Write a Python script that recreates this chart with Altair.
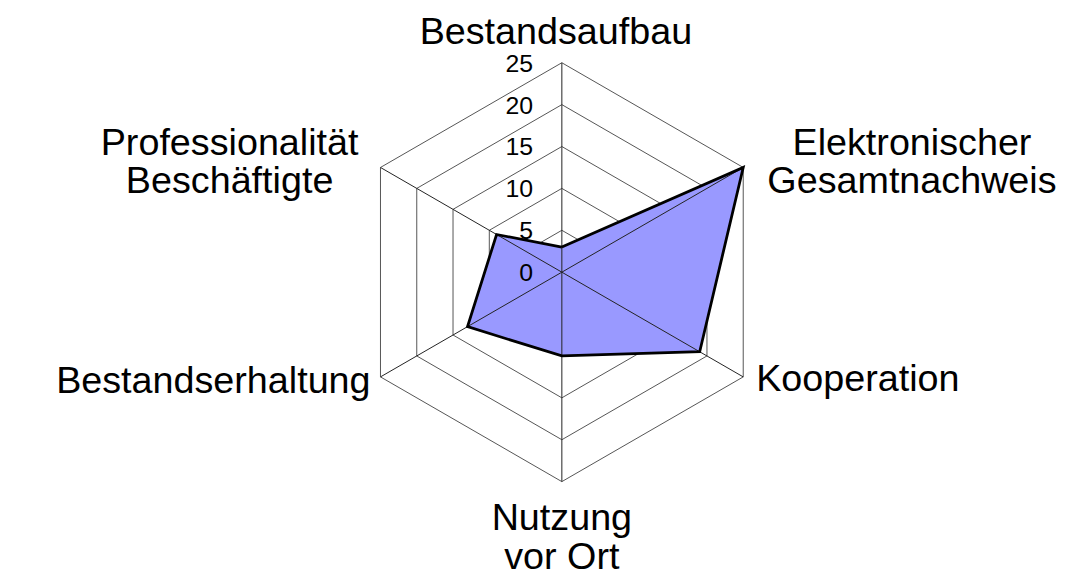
import altair as alt
import numpy as np
import pandas as pd

# ---- data ----
categories = ["Bestandsaufbau", "Elektronischer\nGesamtnachweis", "Kooperation",
              "Nutzung\nvor Ort", "Bestandserhaltung", "Professionalität\nBeschäftigte"]
values = [3, 25, 19, 10, 13, 9]
tick_values = [0, 5, 10, 15, 20, 25]
r_max = 25

# ---- layout ----
W, H = 1077, 576
cx, cy = 558, 264          # centre of the radar in plot pixels
R_px = 211                 # pixel radius of r_max
k = R_px / r_max
n = len(categories)
angles = [2 * np.pi * i / n for i in range(n)]   # clockwise from the top

def px(r, a):
    return float(r * np.sin(a)), float(r * np.cos(a))

xs = alt.Scale(domain=[-cx / k, (W - cx) / k], nice=False, zero=False)
ys = alt.Scale(domain=[-(H - cy) / k, cy / k], nice=False, zero=False)

def X(f="x"):
    return alt.X(f, type="quantitative", scale=xs, axis=None)

def Y(f="y"):
    return alt.Y(f, type="quantitative", scale=ys, axis=None)

# rings
ring_rows = []
for lv in tick_values[1:]:
    for j in range(n + 1):
        x, y = px(lv, angles[j % n])
        ring_rows.append({"level": lv, "o": j, "x": x, "y": y})
rings = alt.Chart(pd.DataFrame(ring_rows)).mark_line(
    color="#555555", strokeWidth=1
).encode(x=X(), y=Y(), detail="level:N", order="o:Q")

# spokes
spoke_rows = []
for a in angles:
    x, y = px(r_max, a)
    spoke_rows.append({"x": 0.0, "y": 0.0, "x2": x, "y2": y})
spokes = alt.Chart(pd.DataFrame(spoke_rows)).mark_rule(
    color="#222222", strokeWidth=1
).encode(x=X(), y=Y(), x2="x2:Q", y2="y2:Q")

# series polygon
poly_rows = []
for j in range(n + 1):
    x, y = px(values[j % n], angles[j % n])
    poly_rows.append({"o": j, "x": x, "y": y})
poly_df = pd.DataFrame(poly_rows)
poly_fill = alt.Chart(poly_df).mark_line(
    fill="#9999FF", stroke="#9999FF", strokeWidth=0.5, fillOpacity=1
).encode(x=X(), y=Y(), order="o:Q")
poly_line = alt.Chart(poly_df).mark_line(
    color="black", strokeWidth=2.8, strokeJoin="miter"
).encode(x=X(), y=Y(), order="o:Q")

# tick labels
tick_df = pd.DataFrame({"x": [0.0] * len(tick_values), "y": [float(t) for t in tick_values],
                        "t": [str(t) for t in tick_values]})
ticks = alt.Chart(tick_df).mark_text(
    align="right", baseline="alphabetic", dx=-29, dy=9,
    font="Liberation Sans", fontSize=25, color="black"
).encode(x=X(), y=Y(), text="t:N")

# category labels
offsets = [("center", -6, -19), ("center", 170, -13), ("left", 13, 14),
           ("center", 0, 49), ("right", -10, 16), ("center", -152, -13)]
label_layers = []
for i, (cat, a) in enumerate(zip(categories, angles)):
    x, y = px(r_max, a)
    al, dx, dy = offsets[i]
    label_layers.append(
        alt.Chart(pd.DataFrame({"x": [x], "y": [y], "t": [cat]})).mark_text(
            align=al, baseline="alphabetic", dx=dx, dy=dy, lineBreak="\n",
            lineHeight=39, font="Liberation Sans", fontSize=38, color="black"
        ).encode(x=X(), y=Y(), text="t:N")
    )

chart = alt.layer(rings, poly_fill, spokes, poly_line, ticks, *label_layers).properties(
    width=W, height=H, autosize=alt.AutoSizeParams(type="none"), padding=0
).configure_view(stroke=None)

chart.save("out.html", embed_options={"renderer": "svg", "actions": False})
